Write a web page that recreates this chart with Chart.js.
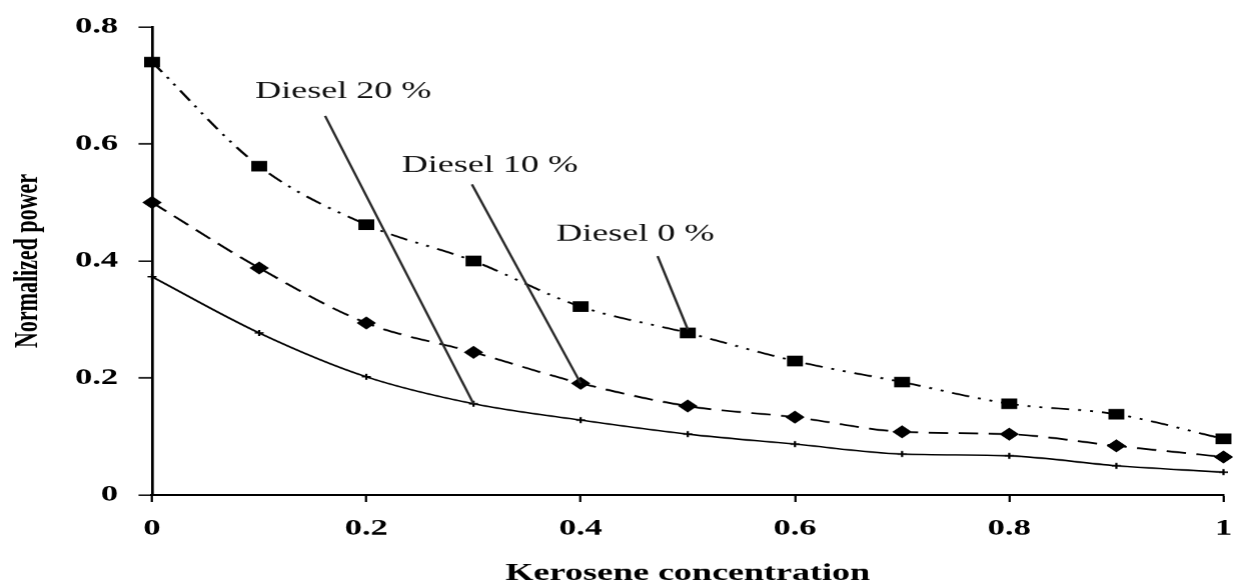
<!DOCTYPE html>
<html><head><meta charset="utf-8">
<script src="https://cdn.jsdelivr.net/npm/chart.js@4.4.1/dist/chart.umd.min.js"></script>
<style>
html,body{margin:0;padding:0;background:#fff;overflow:hidden;width:1238px;height:584px}
#wrap{position:absolute;left:0;top:0;width:825px;height:584px;transform:scaleX(1.50061);transform-origin:0 0}
</style></head><body>
<div id="wrap"><canvas id="c"></canvas></div>
<script>
// ---- data ----
const kerosene = [0, 0.1, 0.2, 0.3, 0.4, 0.5, 0.6, 0.7, 0.8, 0.9, 1];
const diesel20 = [0.74, 0.562, 0.462, 0.40, 0.322, 0.277, 0.229, 0.193, 0.156, 0.138, 0.096];
const diesel10 = [0.50, 0.388, 0.294, 0.244, 0.191, 0.152, 0.133, 0.108, 0.104, 0.084, 0.065];
const diesel0  = [0.373, 0.277, 0.202, 0.156, 0.128, 0.104, 0.087, 0.070, 0.067, 0.050, 0.039];
const xTicks = [0, 0.2, 0.4, 0.6, 0.8, 1];
const yTicks = [0, 0.2, 0.4, 0.6, 0.8];
const seriesNames = ['Diesel 20 %', 'Diesel 10 %', 'Diesel 0 %'];
const xTitle = 'Kerosene concentration';
const yTitle = 'Normalized power';
// callout labels (data coords of text start / baseline) and pointer lines
const labelPos    = [[0.0962, 0.6786], [0.2331, 0.5527], [0.3772, 0.4347]];
const pointerFrom = [[0.1615, 0.648], [0.2985, 0.531], [0.4718, 0.4085]];
const pointerTo   = [[0.3, 0.156], [0.4, 0.191], [0.5, 0.283]];

const serif = '"Liberation Serif", "Times New Roman", serif';

const annot = {
  id: 'annot',
  afterDraw(chart) {
    const {ctx, chartArea: ca, scales: {x, y}} = chart;
    ctx.save();
    ctx.strokeStyle = '#2a2a2a';
    ctx.lineWidth = 1.7;
    for (let i = 0; i < pointerFrom.length; i++) {
      ctx.beginPath();
      ctx.moveTo(x.getPixelForValue(pointerFrom[i][0]), y.getPixelForValue(pointerFrom[i][1]));
      ctx.lineTo(x.getPixelForValue(pointerTo[i][0]), y.getPixelForValue(pointerTo[i][1]));
      ctx.stroke();
    }
    ctx.fillStyle = '#111';
    ctx.font = '24px ' + serif;
    ctx.textAlign = 'left';
    ctx.textBaseline = 'alphabetic';
    for (let i = 0; i < seriesNames.length; i++) {
      ctx.fillText(seriesNames[i], x.getPixelForValue(labelPos[i][0]), y.getPixelForValue(labelPos[i][1]));
    }
    ctx.fillStyle = '#000';
    ctx.font = 'bold 24px ' + serif;
    ctx.textAlign = 'center';
    ctx.fillText(xTitle, (ca.left + ca.right) / 2, 580);
    ctx.translate(19, (ca.top + ca.bottom) / 2);
    ctx.rotate(-Math.PI / 2);
    ctx.font = 'bold 22px ' + serif;
    ctx.textBaseline = 'middle';
    ctx.fillText(yTitle, 0, 0);
    ctx.restore();
  }
};

const tickFont = {family: serif, weight: 'bold', size: 23};
const mk = (arr) => kerosene.map((k, i) => ({x: k, y: arr[i]}));

new Chart(document.getElementById('c'), {
  type: 'line',
  data: {
    datasets: [
      {label: seriesNames[0], data: mk(diesel20), borderColor: '#000', backgroundColor: '#000',
       borderWidth: 1.8, borderDash: [12, 6, 2, 6, 2, 6], pointStyle: 'rect', pointRadius: 7.5,
       pointBorderWidth: 0, cubicInterpolationMode: 'monotone', clip: false},
      {label: seriesNames[1], data: mk(diesel10), borderColor: '#000', backgroundColor: '#000',
       borderWidth: 1.8, borderDash: [13, 7], pointStyle: 'rectRot', pointRadius: 6.5,
       pointBorderWidth: 0, cubicInterpolationMode: 'monotone', clip: false},
      {label: seriesNames[2], data: mk(diesel0), borderColor: '#000', backgroundColor: '#000',
       borderWidth: 1.6, pointStyle: 'cross', pointRadius: 3, pointBorderWidth: 1.5,
       cubicInterpolationMode: 'monotone', clip: false}
    ]
  },
  options: {
    responsive: true,
    maintainAspectRatio: false,
    devicePixelRatio: 1.5,
    animation: false,
    events: [],
    layout: {padding: {left: 0, right: 10, top: 27, bottom: 0}},
    plugins: {legend: {display: false}, tooltip: {enabled: false}},
    scales: {
      x: {
        type: 'linear', min: 0, max: 1,
        afterBuildTicks: s => { s.ticks = xTicks.map(v => ({value: v})); },
        ticks: {font: tickFont, color: '#000', padding: 13, maxRotation: 0, autoSkip: false,
                callback: v => String(v)},
        grid: {display: true, drawOnChartArea: false, drawTicks: true, tickLength: 7,
               tickColor: '#000', tickWidth: 1.5},
        border: {display: true, color: '#000', width: 2},
        afterFit: s => { s.height = 89; s.paddingLeft = 0; s.paddingRight = 0; }
      },
      y: {
        type: 'linear', min: 0, max: 0.8,
        afterBuildTicks: s => { s.ticks = yTicks.map(v => ({value: v})); },
        ticks: {font: tickFont, color: '#000', padding: 13.6, callback: v => String(v)},
        grid: {display: true, drawOnChartArea: false, drawTicks: true, tickLength: 9,
               tickColor: '#000', tickWidth: 1.5},
        border: {display: true, color: '#000', width: 1.8},
        afterFit: s => { s.width = 101.29; s.paddingTop = 0; s.paddingBottom = 0; }
      }
    }
  },
  plugins: [annot]
});
</script>
</body></html>
